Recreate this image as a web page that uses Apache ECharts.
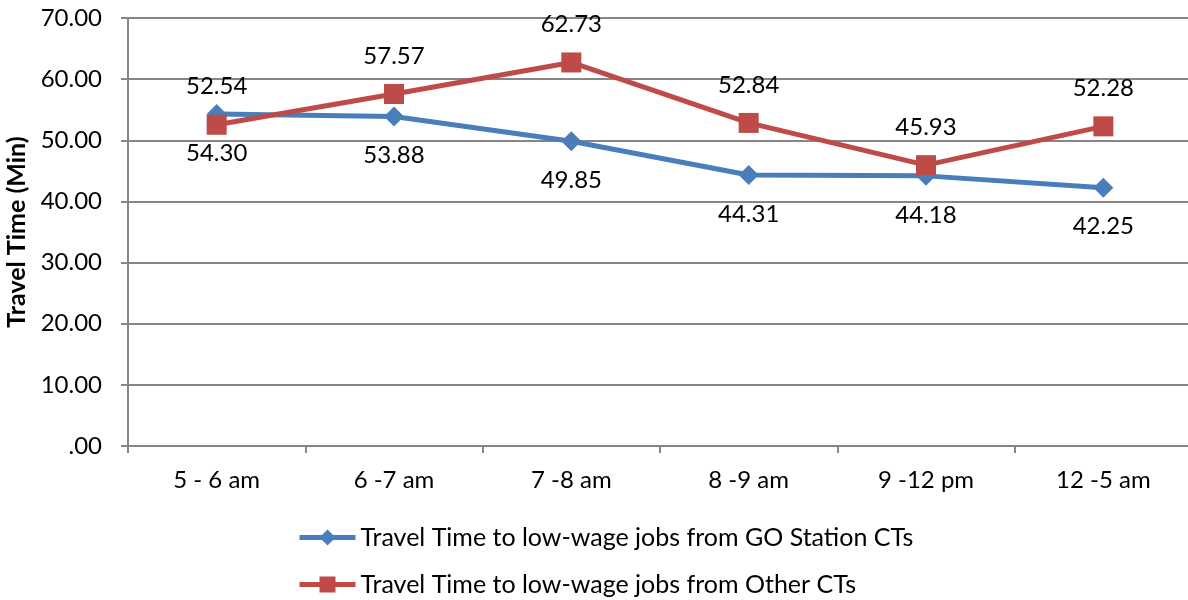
<!DOCTYPE html>
<html>
<head>
<meta charset="utf-8">
<script src="https://cdn.jsdelivr.net/npm/echarts@6/dist/echarts.min.js"></script>
<style>
html,body{margin:0;padding:0;background:#fff;}
#c{width:1188px;height:600px;}
</style>
</head>
<body>
<div id="c"></div>
<script>
const categories = ['5 - 6 am', '6 -7 am', '7 -8 am', '8 -9 am', '9 -12 pm', '12 -5 am'];
const goStation = [54.30, 53.88, 49.85, 44.31, 44.18, 42.25];
const otherCTs = [52.54, 57.57, 62.73, 52.84, 45.93, 52.28];
const seriesNames = ['Travel Time to low-wage jobs from GO Station CTs', 'Travel Time to low-wage jobs from Other CTs'];
const yAxisName = 'Travel Time (Min)';

const FONT = 'Lato, "Open Sans", sans-serif';
const FS = 24;
const chart = echarts.init(document.getElementById('c'), null, {renderer: 'canvas'});
function fmt(v) {
  const s = Number(v).toFixed(2);
  return s.startsWith('0.') ? s.slice(1) : s;
}
function legendFor(name, top) {
  return {
    orient: 'horizontal',
    left: 292,
    top: top,
    itemWidth: 56,
    itemHeight: 20,
    lineStyle: {width: 5},
    textStyle: {fontFamily: FONT, fontSize: 25, color: '#000'},
    data: [name]
  };
}
chart.setOption({
  animation: false,
  backgroundColor: '#fff',
  textStyle: {fontFamily: FONT},
  grid: {left: 128, right: -4, top: 18, bottom: 154, containLabel: false, outerBoundsMode: 'none'},
  legend: [legendFor(seriesNames[0], 520), legendFor(seriesNames[1], 567)],
  xAxis: {
    type: 'category',
    data: categories,
    boundaryGap: true,
    axisLine: {lineStyle: {color: '#868686', width: 2}},
    axisTick: {show: true, length: 7, lineStyle: {color: '#868686', width: 2}},
    axisLabel: {fontFamily: FONT, fontSize: FS, color: '#000', margin: 22}
  },
  yAxis: {
    type: 'value',
    min: 0, max: 70, interval: 10,
    name: yAxisName,
    nameLocation: 'middle',
    nameGap: 89,
    nameTextStyle: {fontFamily: FONT, fontSize: 25, fontWeight: 'bold', color: '#000'},
    axisLine: {show: true, lineStyle: {color: '#868686', width: 2}},
    axisTick: {show: true, length: 7, lineStyle: {color: '#868686', width: 2}},
    splitLine: {lineStyle: {color: '#868686', width: 2}},
    axisLabel: {fontFamily: FONT, fontSize: FS, color: '#000', margin: 26, formatter: fmt}
  },
  series: [
    {
      name: seriesNames[0],
      type: 'line',
      data: goStation,
      color: '#4A7EBB',
      lineStyle: {width: 5, color: '#4A7EBB'},
      symbol: 'diamond',
      symbolSize: 20,
      itemStyle: {color: '#4A7EBB'},
      label: {show: true, position: 'bottom', distance: 17, fontFamily: FONT, fontSize: FS, lineHeight: 24, color: '#000', formatter: p => fmt(p.value)},
      z: 2
    },
    {
      name: seriesNames[1],
      type: 'line',
      data: otherCTs,
      color: '#BE4B48',
      lineStyle: {width: 5, color: '#BE4B48'},
      symbol: 'rect',
      symbolSize: 20,
      itemStyle: {color: '#BE4B48'},
      label: {show: true, position: 'top', distance: 16, fontFamily: FONT, fontSize: FS, lineHeight: 24, color: '#000', formatter: p => fmt(p.value)},
      z: 3
    }
  ]
});
</script>
</body>
</html>
